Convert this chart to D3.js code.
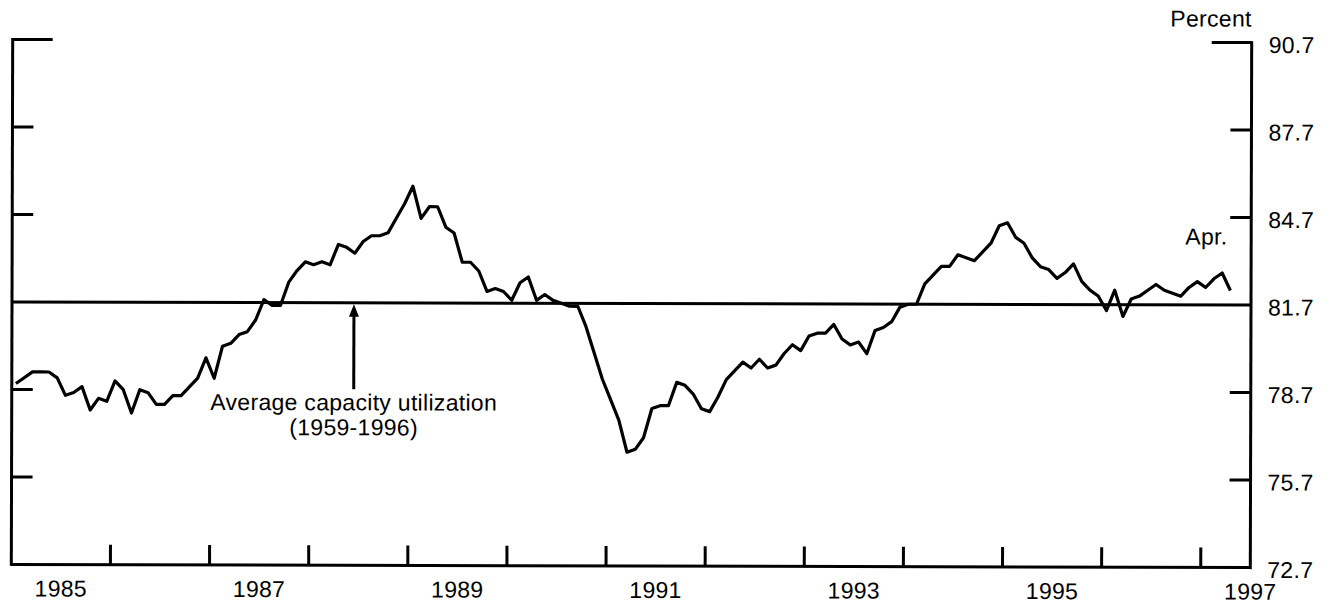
<!DOCTYPE html>
<html>
<head>
<meta charset="utf-8">
<script src="https://cdn.jsdelivr.net/npm/d3@7"></script>
<style>
  body { margin: 0; background: #fff; }
  text { font-family: "Liberation Sans", Arial, Helvetica, sans-serif; fill: #000; letter-spacing: 0.3px; }
</style>
</head>
<body>
<div id="chart"></div>
<script>
// Monthly capacity utilization, Jan 1985 - Apr 1997 (percent)
const startYear = 1985;
const capUtil = [
  78.9, 79.1, 79.3, 79.3, 79.3, 79.1, 78.5, 78.6, 78.8, 78.0, 78.4, 78.3, // 1985
  79.0, 78.7, 77.9, 78.7, 78.6, 78.2, 78.2, 78.5, 78.5, 78.8, 79.1, 79.8, // 1986
  79.1, 80.2, 80.3, 80.6, 80.7, 81.1, 81.8, 81.6, 81.6, 82.4, 82.8, 83.1, // 1987
  83.0, 83.1, 83.0, 83.7, 83.6, 83.4, 83.8, 84.0, 84.0, 84.1, 84.6, 85.1, // 1988
  85.7, 84.6, 85.0, 85.0, 84.3, 84.1, 83.1, 83.1, 82.8, 82.1, 82.2, 82.1, // 1989
  81.8, 82.4, 82.6, 81.8, 82.0, 81.8, 81.7, 81.6, 81.6, 80.9, 80.0, 79.1, // 1990
  78.4, 77.7, 76.6, 76.7, 77.1, 78.1, 78.2, 78.2, 79.0, 78.9, 78.6, 78.1, // 1991
  78.0, 78.5, 79.1, 79.4, 79.7, 79.5, 79.8, 79.5, 79.6, 80.0, 80.3, 80.1, // 1992
  80.6, 80.7, 80.7, 81.0, 80.5, 80.3, 80.4, 80.0, 80.8, 80.9, 81.1, 81.6, // 1993
  81.7, 81.7, 82.4, 82.7, 83.0, 83.0, 83.4, 83.3, 83.2, 83.5, 83.8, 84.4, // 1994
  84.5, 84.0, 83.8, 83.3, 83.0, 82.9, 82.6, 82.8, 83.1, 82.5, 82.2, 82.0, // 1995
  81.5, 82.2, 81.3, 81.9, 82.0, 82.2, 82.4, 82.2, 82.1, 82.0, 82.3, 82.5, // 1996
  82.3, 82.6, 82.8, 82.2                                                  // 1997
];
const avgUtil = 81.7; // average 1959-1996
const yTicks = [72.7, 75.7, 78.7, 81.7, 84.7, 87.7, 90.7];
const yearTicks = [1986, 1987, 1988, 1989, 1990, 1991, 1992, 1993, 1994, 1995, 1996, 1997];
const yearLabels = [1985, 1987, 1989, 1991, 1993, 1995, 1997];

const width = 1332, height = 608;
const margin = {top: 41, right: 81, bottom: 42, left: 12};
const plotRight = width - margin.right,
  plotBottom = height - margin.bottom;

const svg = d3.select("#chart")
  .append("svg")
    .attr("width", width)
    .attr("height", height)
  .append("g")
    // the scanned original is tilted a tiny bit
    .attr("transform", "rotate(0.15, 631, 303)");

const x = d3.scaleLinear().domain([1985, 1997.5]).range([margin.left, plotRight]);
const y = d3.scaleLinear().domain([72.7, 90.7]).range([plotBottom, margin.top]);

const stroke = 3;

// frame: left, right and bottom lines
svg.append("line")
  .attr("x1", margin.left).attr("x2", margin.left)
  .attr("y1", y(90.7) - 1.5).attr("y2", y(72.7) + 1.5)
  .attr("stroke", "black").attr("stroke-width", stroke);
svg.append("line")
  .attr("x1", plotRight).attr("x2", plotRight)
  .attr("y1", y(90.7) - 1.5).attr("y2", y(72.7) + 1.5)
  .attr("stroke", "black").attr("stroke-width", stroke);
svg.append("line")
  .attr("x1", margin.left).attr("x2", plotRight)
  .attr("y1", y(72.7)).attr("y2", y(72.7))
  .attr("stroke", "black").attr("stroke-width", stroke);

// y ticks on both sides (the top one is longer, 81.7 is the average line)
const innerTicks = yTicks.filter(d => d !== 72.7 && d !== avgUtil);
svg.selectAll(".ltick")
  .data(innerTicks)
  .enter()
  .append("line")
    .attr("x1", margin.left)
    .attr("x2", d => margin.left + (d === 90.7 ? 40 : 21))
    .attr("y1", d => y(d)).attr("y2", d => y(d))
    .attr("stroke", "black").attr("stroke-width", stroke);
svg.selectAll(".rtick")
  .data(innerTicks)
  .enter()
  .append("line")
    .attr("x1", plotRight)
    .attr("x2", d => plotRight - (d === 90.7 ? 40 : 21))
    .attr("y1", d => y(d)).attr("y2", d => y(d))
    .attr("stroke", "black").attr("stroke-width", stroke);

svg.selectAll(".ylabel")
  .data(yTicks)
  .enter()
  .append("text")
    .attr("x", plotRight + 17)
    .attr("y", d => y(d) + 2)
    .attr("dy", "0.36em")
    .attr("font-size", "23px")
    .text(d => d.toFixed(1));

svg.append("text")
  .attr("x", plotRight)
  .attr("y", 25)
  .attr("text-anchor", "end")
  .attr("font-size", "23px")
  .text("Percent");

// x ticks at each new year, pointing up
svg.selectAll(".xtick")
  .data(yearTicks)
  .enter()
  .append("line")
    .attr("x1", d => x(d)).attr("x2", d => x(d))
    .attr("y1", y(72.7)).attr("y2", y(72.7) - 20)
    .attr("stroke", "black").attr("stroke-width", stroke);

// year labels centred in the year
svg.selectAll(".xlabel")
  .data(yearLabels)
  .enter()
  .append("text")
    .attr("x", d => x(d + 0.5))
    .attr("y", y(72.7) + 32)
    .attr("text-anchor", "middle")
    .attr("font-size", "23px")
    .text(d => d);

// average line
svg.append("line")
  .attr("x1", margin.left).attr("x2", plotRight)
  .attr("y1", y(avgUtil)).attr("y2", y(avgUtil))
  .attr("stroke", "black").attr("stroke-width", stroke);

// the data line
const line = d3.line()
  .x((d, i) => x(startYear + (i + 0.5) / 12))
  .y(d => y(d));

svg.append("path")
  .datum(capUtil)
  .attr("d", line)
  .attr("fill", "none")
  .attr("stroke", "black")
  .attr("stroke-width", 3.2)
  .attr("stroke-linejoin", "round");

svg.append("text")
  .attr("x", x(startYear + 147.5 / 12) - 3)
  .attr("y", 243)
  .attr("text-anchor", "end")
  .attr("font-size", "23px")
  .text("Apr.");

// annotation with arrow to the average line
const arrowX = x(1988.45);
svg.append("line")
  .attr("x1", arrowX).attr("x2", arrowX)
  .attr("y1", 390).attr("y2", y(avgUtil) + 12)
  .attr("stroke", "black").attr("stroke-width", 3);
svg.append("path")
  .attr("d", `M${arrowX - 5},${y(avgUtil) + 14} L${arrowX},${y(avgUtil) + 1.5} L${arrowX + 5},${y(avgUtil) + 14} Z`)
  .attr("fill", "black");

svg.append("text")
  .attr("x", arrowX)
  .attr("y", 411)
  .attr("text-anchor", "middle")
  .attr("font-size", "23px")
  .text("Average capacity utilization");
svg.append("text")
  .attr("x", arrowX)
  .attr("y", 436)
  .attr("text-anchor", "middle")
  .attr("font-size", "23px")
  .text("(1959-1996)");
</script>
</body>
</html>
